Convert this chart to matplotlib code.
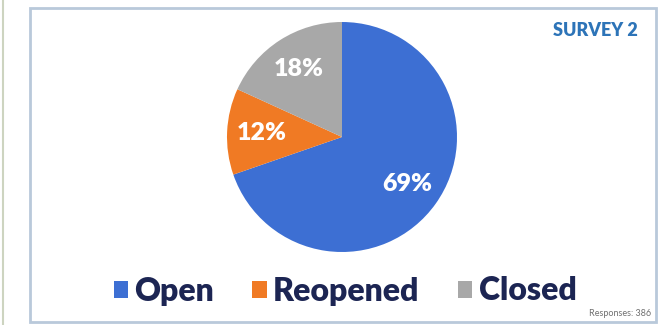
"""
Survey 2 status pie chart.
"""

import matplotlib
matplotlib.use("Agg")
import matplotlib.pyplot as plt
from matplotlib.patches import Rectangle
from matplotlib.lines import Line2D

# Data
labels = ["Open", "Reopened", "Closed"]
values = [69, 12, 18]
colors = ["#3d6fd3", "#f07a24", "#a8a8a8"]
title = "SURVEY 2"
note = "Responses: 386"

W, H = 664, 325
fig = plt.figure(figsize=(W / 100, H / 100), dpi=100)
fig.patch.set_facecolor("white")

# Outer frame and left divider line
fig.add_artist(Rectangle((30 / W, 3 / H), 626 / W, 314 / H, transform=fig.transFigure,
                         fill=False, edgecolor="#b9c9da", linewidth=2))
fig.add_artist(Line2D([3.5 / W, 3.5 / W], [0, 1], transform=fig.transFigure,
                      color="#cdd4c0", linewidth=1.5))

# Pie
cx, cy, r = 342, 137, 115
ax = fig.add_axes([(cx - r) / W, (H - cy - r) / H, 2 * r / W, 2 * r / H])
total = sum(values)
wedges, texts, autotexts = ax.pie(
    values, colors=colors, startangle=90, counterclock=False,
    autopct=lambda p: f"{p * total / 100:.0f}%", pctdistance=0.7,
    textprops=dict(color="white", fontsize=18, fontweight="heavy", family="Lato"),
)
ax.set_xlim(-1, 1)
ax.set_ylim(-1, 1)
ax.set_aspect("equal")

# Title and note
fig.text(638 / W, 1 - 30 / H, title, ha="right", va="center", fontsize=13,
         fontweight="heavy", color="#2d74b8", family="Lato")
fig.text(651 / W, 1 - 313 / H, note, ha="right", va="center", fontsize=6.5,
         color="#707070", family="Lato")

# Legend
fig.legend(wedges, labels, loc="center", bbox_to_anchor=(345 / W, 1 - 291 / H),
           ncol=3, frameon=False, handlelength=0.45, handleheight=0.45,
           handletextpad=0.2, columnspacing=1.2,
           prop=dict(family="Lato", weight="heavy", size=23),
           labelcolor="#1c2553")

plt.savefig("out.png", dpi=100)
